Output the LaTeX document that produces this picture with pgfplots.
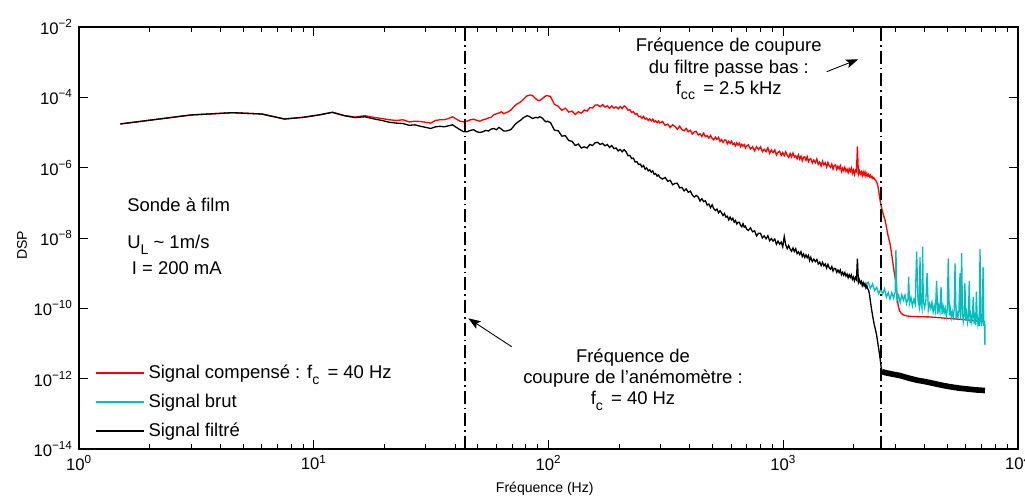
\documentclass[border=0pt]{standalone}
\usepackage{fontspec}
\setmainfont{Liberation Sans}
\usepackage{pgfplots}
\pgfplotsset{compat=1.18}
\usepackage{pgfplotstable}
\usetikzlibrary{arrows.meta}
\definecolor{mcyan}{RGB}{0,191,191}
\newcommand{\sub}[1]{\raisebox{-0.6ex}{\fontsize{8}{9}\selectfont #1}}

% f, signal compense (r), signal filtre (b)
\pgfplotstableread{
f r b
1.5 1.75e-5 1.75e-5
3 3.15e-5 3.15e-5
4.5 3.66e-5 3.66e-5
6 3.36e-5 3.36e-5
7.5 2.42e-5 2.42e-5
9 2.7e-5 2.7e-5
10.5 3.15e-5 3.15e-5
12 3.75e-5 3.75e-5
13.5 3.05e-5 3.0e-5
15 2.75e-5 2.65e-5
16.5 3.0e-5 2.8e-5
18 2.7e-5 2.45e-5
19.5 2.5e-5 2.2e-5
21 2.3e-5 1.95e-5
22.5 2.2e-5 1.85e-5
24 2.3e-5 1.8e-5
25.5 2.0e-5 1.6e-5
27 2.1e-5 1.65e-5
28.5 2.05e-5 1.5e-5
30 1.95e-5 1.4e-5
31.5 1.85e-5 1.3e-5
33 2.2e-5 1.45e-5
34.5 2.3e-5 1.5e-5
36 2.3e-5 1.45e-5
37.5 2.5e-5 1.55e-5
39 2.8e-5 1.65e-5
40.5 2.4e-5 1.4e-5
42 2.1e-5 1.2e-5
43.5 2.0e-5 1.05e-5
45 2.1e-5 1.05e-5
46.5 2.3e-5 1.15e-5
48 2.4e-5 1.2e-5
49.5 2.2e-5 1.05e-5
51 2.1e-5 1.0e-5
52.5 2.3e-5 1.05e-5
54 2.4e-5 1.15e-5
55.5 2.6e-5 1.1e-5
57 2.7e-5 1.25e-5
58.5 3.2e-5 1.3e-5
60 3.4e-5 1.2e-5
61.5 3.6e-5 1.4e-5
63 3.9e-5 1.25e-5
64.5 3.4e-5 1.1e-5
66 3.7e-5 1.1e-5
67.5 3.9e-5 1.15e-5
69 4.3e-5 1.2e-5
70.5 5.0e-5 1.4e-5
72 5.8e-5 1.7e-5
73.5 6.5e-5 1.9e-5
75 7.0e-5 2.1e-5
76.5 7.6e-5 2.3e-5
78 8.6e-5 2.6e-5
79.5 9.8e-5 2.8e-5
81 1.1e-4 3.0e-5
82.5 1.14e-4 2.9e-5
84 1.17e-4 2.7e-5
85.5 1.12e-4 2.5e-5
87 1.0e-4 2.6e-5
88.5 9.0e-5 2.7e-5
90 8.2e-5 2.6e-5
91.5 8.0e-5 2.8e-5
93 8.6e-5 2.7e-5
94.5 9.4e-5 2.5e-5
96 1.03e-4 2.2e-5
97.5 1.1e-4 2.0e-5
99 1.12e-4 2.1e-5
102 1.05e-4 1.9e-5
106 6.3e-5 1.17e-5
110 5.6e-5 1.12e-5
114 4.27e-5 7.9e-6
118 4.9e-5 8.1e-6
122 3.8e-5 5.9e-6
126 4.07e-5 5.6e-6
130 3.24e-5 4.27e-6
134 3.9e-5 4.7e-6
138 3.55e-5 3.63e-6
142 4.37e-5 3.9e-6
146 4.07e-5 3.63e-6
150 5.1e-5 4.57e-6
154 5.0e-5 4.27e-6
158 6.0e-5 5.1e-6
162 6.1e-5 5.25e-6
166 5.4e-5 4.57e-6
170 6.2e-5 4.9e-6
174 5.25e-5 4.17e-6
178 5.75e-5 4.57e-6
182 4.9e-5 3.76e-6
186 5.7e-5 4.27e-6
190 4.9e-5 3.47e-6
194 5.4e-5 3.63e-6
198 4.68e-5 3.0e-6
202 5.5e-5 3.3e-6
206 4.8e-5 2.82e-6
210 5.7e-5 3.24e-6
214 5.25e-5 2.85e-6
218 4.3e-5 2.19e-6
222 4.47e-5 2.24e-6
226 3.72e-5 1.82e-6
230 3.9e-5 1.86e-6
234 3.3e-5 1.45e-6
238 3.47e-5 1.48e-6
242 2.82e-5 1.23e-6
246 2.92e-5 1.26e-6
250 2.51e-5 1.05e-6
254 2.88e-5 1.15e-6
258 2.4e-5 9.1e-7
262 2.57e-5 9.8e-7
266 2.19e-5 8.1e-7
270 2.45e-5 8.7e-7
274 2.14e-5 7.4e-7
278 2.4e-5 8.1e-7
282 2.0e-5 6.5e-7
286 2.16e-5 6.8e-7
290 1.9e-5 5.75e-7
294 2.14e-5 6.2e-7
298 1.86e-5 5.3e-7
306 2.06e-5 4.76e-7
314 1.59e-5 5.25e-7
322 1.74e-5 4.11e-7
330 1.38e-5 4.36e-7
338 1.66e-5 3.27e-7
346 1.48e-5 3.55e-7
354 1.23e-5 3.61e-7
362 1.52e-5 2.66e-7
370 1.21e-5 2.74e-7
378 1.11e-5 2.19e-7
386 1.31e-5 2.48e-7
394 1.05e-5 1.99e-7
402 1.16e-5 2.15e-7
410 9.0e-6 1.66e-7
418 1.04e-5 1.46e-7
426 1.08e-5 1.63e-7
434 8.5e-6 1.47e-7
442 9.2e-6 1.12e-7
450 7.7e-6 1.31e-7
458 9.6e-6 1.08e-7
466 7.6e-6 1.15e-7
474 8.2e-6 8.65e-8
482 6.9e-6 9.25e-8
490 8.3e-6 7.3e-8
498 6.8e-6 8.8e-8
506 6.2e-6 6.8e-8
514 7.4e-6 6.05e-8
522 6.4e-6 6.65e-8
530 7.3e-6 5.18e-8
538 5.6e-6 5.96e-8
546 6.3e-6 5.2e-8
554 5.2e-6 4.36e-8
562 6.15e-6 5.0e-8
570 6.1e-6 3.93e-8
578 4.76e-6 4.16e-8
586 5.6e-6 3.29e-8
594 4.88e-6 3.93e-8
602 5.7e-6 3.26e-8
610 4.56e-6 3.64e-8
618 5.0e-6 2.82e-8
626 4.17e-6 3.15e-8
634 5.1e-6 2.5e-8
642 4.38e-6 2.81e-8
650 5.0e-6 2.81e-8
658 3.93e-6 2.28e-8
666 4.62e-6 2.08e-8
674 4.13e-6 2.56e-8
682 4.54e-6 2.04e-8
690 3.62e-6 2.19e-8
698 4.17e-6 1.79e-8
710 4.48e-6 1.64e-8
725 3.38e-6 1.95e-8
740 3.96e-6 1.5e-8
755 3.0e-6 1.6e-8
770 3.94e-6 1.15e-8
785 3.27e-6 1.37e-8
800 3.94e-6 1.36e-8
815 2.85e-6 1.0e-8
830 3.35e-6 1.15e-8
845 2.85e-6 9.5e-9
860 3.67e-6 1.16e-8
875 2.55e-6 8.4e-9
890 3.21e-6 9.6e-9
905 2.67e-6 8.2e-9
920 3.21e-6 9.4e-9
935 2.28e-6 6.65e-9
950 2.74e-6 8.2e-9
965 2.93e-6 6.67e-9
980 2.23e-6 7.64e-9
995 2.68e-6 5.62e-9
1010 2.18e-6 1.1e-8
1025 2.82e-6 6.41e-9
1040 2.24e-6 4.97e-9
1055 1.96e-6 6.1e-9
1070 2.54e-6 4.84e-9
1085 2.02e-6 4.22e-9
1100 2.61e-6 5.18e-9
1115 1.99e-6 4.12e-9
1130 2.19e-6 4.95e-9
1145 1.79e-6 3.6e-9
1160 2.31e-6 4.05e-9
1175 1.76e-6 3.38e-9
1190 2.12e-6 4.07e-9
1205 1.57e-6 2.96e-9
1220 1.98e-6 3.5e-9
1235 2.03e-6 2.79e-9
1250 1.61e-6 3.3e-9
1265 2.04e-6 2.76e-9
1280 1.48e-6 3.19e-9
1295 1.74e-6 2.28e-9
1310 1.82e-6 2.82e-9
1330 1.35e-6 2.13e-9
1350 1.65e-6 2.5e-9
1370 1.37e-6 2.13e-9
1390 1.76e-6 2.45e-9
1410 1.24e-6 1.82e-9
1430 1.45e-6 2.06e-9
1450 1.12e-6 1.64e-9
1470 1.52e-6 2.03e-9
1490 1.2e-6 1.62e-9
1510 1.38e-6 1.83e-9
1530 1.04e-6 1.4e-9
1550 1.41e-6 1.77e-9
1570 1.12e-6 1.42e-9
1590 1.02e-6 1.3e-9
1610 1.26e-6 1.55e-9
1630 9.1e-7 1.15e-9
1650 1.15e-6 1.37e-9
1670 1.2e-6 1.35e-9
1690 8.9e-7 1.06e-9
1710 1.1e-6 1.23e-9
1730 9.2e-7 1.04e-9
1750 1.13e-6 1.23e-9
1770 7.85e-7 9.0e-10
1790 9.7e-7 1.05e-9
1810 8.1e-7 8.8e-10
1830 1.02e-6 1.05e-9
1850 7.9e-7 8.3e-10
1870 9.1e-7 9.4e-10
1890 7.2e-7 7.4e-10
1910 9.3e-7 9.0e-10
1930 7.8e-7 7.6e-10
1950 9.7e-7 8.9e-10
1970 6.9e-7 6.7e-10
1990 8.55e-7 7.8e-10
2010 6.4e-7 6.1e-10
2030 8.5e-7 7.5e-10
2050 7.8e-7 6.6e-10
2070 4.0e-6 2.6e-9
2090 6.5e-7 5.45e-10
2110 8.2e-7 6.55e-10
2130 6.6e-7 5.2e-10
2150 7.65e-7 5.85e-10
2170 5.9e-7 4.45e-10
2190 7.6e-7 5.36e-10
2210 6.1e-7 4.37e-10
2230 7.6e-7 5.0e-10
2250 5.8e-7 3.83e-10
2270 6.9e-7 4.42e-10
2290 5.6e-7 3.52e-10
}\tabmain

% signal compense, coupure du filtre
\pgfplotstableread{
f r
2290 5.6e-7
2310 6.4e-7
2330 5.5e-7
2350 6.1e-7
2370 5.2e-7
2390 5.6e-7
2410 4.9e-7
2430 5.2e-7
2450 4.6e-7
2470 4.5e-7
2490 4.1e-7
2510 3.6e-7
2530 3.0e-7
2550 2.2e-7
2570 1.5e-7
2590 1.1e-7
2620 7.5e-8
2650 5.5e-8
2680 4.2e-8
2716 3.2e-8
2750 2.1e-8
2780 1.4e-8
2810 1.0e-8
2850 7.0e-9
2880 4.5e-9
2910 2.8e-9
2940 1.7e-9
2970 1.05e-9
3000 7.0e-10
3030 4.0e-10
3060 2.0e-10
3090 1.15e-10
3130 8.5e-11
3180 7.2e-11
3250 6.5e-11
3350 6.1e-11
3500 5.9e-11
3800 5.8e-11
4200 5.7e-11
5000 5.2e-11
6000 4.7e-11
7240 4.2e-11
}\tabredtail

% signal brut, au-dela de la coupure
\pgfplotstableread{
f c
2250 5.0e-10
2300 5.5e-10
2350 3.7e-10
2400 4.93e-10
2450 3.22e-10
2500 3.94e-10
2550 2.58e-10
2600 3.58e-10
2650 2.56e-10
2700 3.56e-10
2750 2.07e-10
2800 2.82e-10
2850 1.84e-10
2900 2.81e-10
2950 1.97e-10
3000 2.95e-10
3020 4.6e-9
3050 1.72e-10
3100 2.35e-10
3150 1.47e-10
3200 2.42e-10
3250 1.7e-10
3300 2.38e-10
3350 1.36e-10
3400 1.87e-10
3420 8.0e-10
3450 1.37e-10
3500 2.07e-10
3550 1.16e-10
3600 1.78e-10
3650 1.32e-10
3700 4.1e-9
3750 1.72e-10
3800 1.08e-10
3825 2.9e-9
3850 1.52e-10
3900 9.8e-11
3925 5.7e-9
3950 1.63e-10
4000 1.05e-10
4050 1.62e-10
4100 1.0e-9
4150 8.9e-11
4200 1.34e-10
4250 9.9e-11
4300 1.47e-10
4350 7.9e-11
4400 1.17e-10
4450 8.1e-11
4500 6.0e-10
4550 7.0e-11
4600 1.17e-10
4650 7.9e-11
4700 4.0e-10
4750 6.9e-11
4800 1.13e-10
4850 7.5e-11
4900 1.01e-10
4950 5.96e-11
5000 9.25e-11
5045 2.65e-9
5100 6.3e-11
5150 9.55e-11
5200 5.5e-11
5250 8.0e-11
5300 5.7e-11
5350 9.3e-11
5393 1.9e-9
5450 5.1e-11
5500 7.8e-11
5550 5.6e-11
5600 8.3e-11
5665 1.0e-9
5700 4.8e-11
5754 3.7e-9
5800 7.2e-11
5850 4.27e-11
5900 6.5e-11
5940 5.1e-10
6000 4.55e-11
6050 7.1e-11
6100 4.1e-11
6150 6.1e-11
6200 6.0e-10
6250 3.82e-11
6300 6.2e-11
6350 4.25e-11
6400 6.5e-11
6450 2.1e-10
6500 3.7e-11
6550 5.5e-11
6600 3.35e-11
6650 3.0e-10
6700 5.65e-11
6750 3.5e-11
6800 4.9e-11
6850 3.18e-11
6890 4.9e-9
6950 5.0e-11
7000 3.12e-11
7050 5.2e-11
7100 1.5e-9
7150 3.2e-11
7200 4.25e-11
7230 9e-12
7240 3.5e-11
}\tabbrut

% signal filtre, chute puis plancher
\pgfplotstableread{
f b
2290 3.52e-10
2310 3.3e-10
2330 2.5e-10
2350 1.6e-10
2380 9e-11
2410 5.5e-11
2440 3.5e-11
2470 2.5e-11
2500 1.7e-11
2530 1.0e-11
2560 6.0e-12
2590 3.5e-12
2610 2.2e-12
2630 1.6e-12
}\tabdrop

\pgfplotstableread{
f b
2630 1.6e-12
2700 1.5e-12
2800 1.42e-12
3000 1.3e-12
3140 1.23e-12
3400 1.05e-12
3700 9.1e-13
4000 8.3e-13
4380 7.3e-13
4800 6.4e-13
5130 5.9e-13
5600 5.4e-13
6060 5.1e-13
6600 4.8e-13
7230 4.6e-13
}\tabfloor

\begin{document}
\begin{tikzpicture}
\useasboundingbox (-1.58,-0.92) rectangle (18.92,8.98);
\begin{axis}[
  at={(0,0)}, anchor=south west,
  scale only axis, width=18.78cm, height=8.44cm,
  xmode=log, ymode=log,
  xmin=1, xmax=1e4, ymin=1e-14, ymax=1e-2,
  xtick={1,10,100,1000,10000},
  xticklabels={10\textsuperscript{0},10\textsuperscript{1},10\textsuperscript{2},10\textsuperscript{3},10\textsuperscript{4}},
  ytick={1e-14,1e-12,1e-10,1e-8,1e-6,1e-4,1e-2},
  yticklabels={10\textsuperscript{−14},10\textsuperscript{−12},10\textsuperscript{−10},10\textsuperscript{−8},10\textsuperscript{−6},10\textsuperscript{−4},10\textsuperscript{−2}},
  yminorticks=false,
  tick align=inside,
  major tick length=5pt, minor tick length=2.8pt,
  axis line style={line width=0.7pt},
  every tick/.style={black, line width=0.5pt},
  tick label style={font=\fontsize{9.5}{11}\selectfont},
  xlabel={Fréquence (Hz)}, ylabel={DSP},
  label style={font=\fontsize{8}{10}\selectfont},
  xlabel style={at={(axis description cs:0.496,-0.095)}, anchor=center},
  ylabel style={at={(axis description cs:-0.0607,0.483)}, anchor=center},
  legend style={at={(axis description cs:0.017,0.2085)}, anchor=north west,
    draw=none, fill=none, font=\fontsize{10.5}{12.5}\selectfont,
    row sep=3.3pt, inner sep=0pt},
  legend cell align=left,
  legend image code/.code={\draw[#1, line width=1pt] (0cm,0cm) -- (0.96cm,0cm);},
]
\addplot[red, line width=0.75pt] table[x=f, y=r] {\tabmain};
\addlegendentry{Signal compensé : f\sub{c} \,= 40 Hz}
\addplot[red, line width=0.75pt, forget plot] table[x=f, y=r] {\tabredtail};
\addplot[mcyan, line width=0.75pt] table[x=f, y=c] {\tabbrut};
\addlegendentry{Signal brut}
\addplot[black, line width=0.75pt] table[x=f, y=b] {\tabmain};
\addlegendentry{Signal filtré}
\addplot[black, line width=0.75pt, forget plot] table[x=f, y=b] {\tabdrop};
\addplot[black, line width=3.2pt, forget plot] table[x=f, y=b] {\tabfloor};
% frequences de coupure
\addplot[black, line width=1.6pt, dash pattern=on 7.4pt off 2.3pt on 0.9pt off 2.3pt, forget plot]
  coordinates {(44.1,1e-14) (44.1,1e-2)};
\addplot[black, line width=1.6pt, dash pattern=on 7.4pt off 2.3pt on 0.9pt off 2.3pt, forget plot]
  coordinates {(2609,1e-14) (2609,1e-2)};
% annotations
\node[inner sep=0pt, anchor=west, font=\fontsize{10.5}{12.5}\selectfont] at (rel axis cs:0.0511,0.578) {Sonde à film};
\node[inner sep=0pt, anchor=west, font=\fontsize{10.5}{12.5}\selectfont] at (rel axis cs:0.0511,0.483) {U\sub{L} \textasciitilde{} 1m/s};
\node[inner sep=0pt, anchor=west, font=\fontsize{10.5}{12.5}\selectfont] at (rel axis cs:0.056,0.429) {I = 200 mA};
\node[align=center, inner sep=0pt, font=\fontsize{10.5}{12}\selectfont] at (rel axis cs:0.590,0.1635)
  {Fréquence de\\coupure de l’anémomètre :\\f\sub{c} \,= 40 Hz};
\node[align=center, inner sep=0pt, font=\fontsize{10.5}{12}\selectfont] at (rel axis cs:0.692,0.900)
  {Fréquence de coupure\\du filtre passe bas :\\f\sub{cc} \,= 2.5 kHz};
\draw[-{Stealth[length=7pt,width=5pt,inset=1.5pt]}, line width=0.5pt]
  (rel axis cs:0.4608,0.2424) -- (rel axis cs:0.4146,0.3097);
\draw[-{Stealth[length=7pt,width=5pt,inset=1.5pt]}, line width=0.5pt]
  (rel axis cs:0.7963,0.8941) -- (rel axis cs:0.8299,0.9235);
\end{axis}
\end{tikzpicture}
\end{document}
